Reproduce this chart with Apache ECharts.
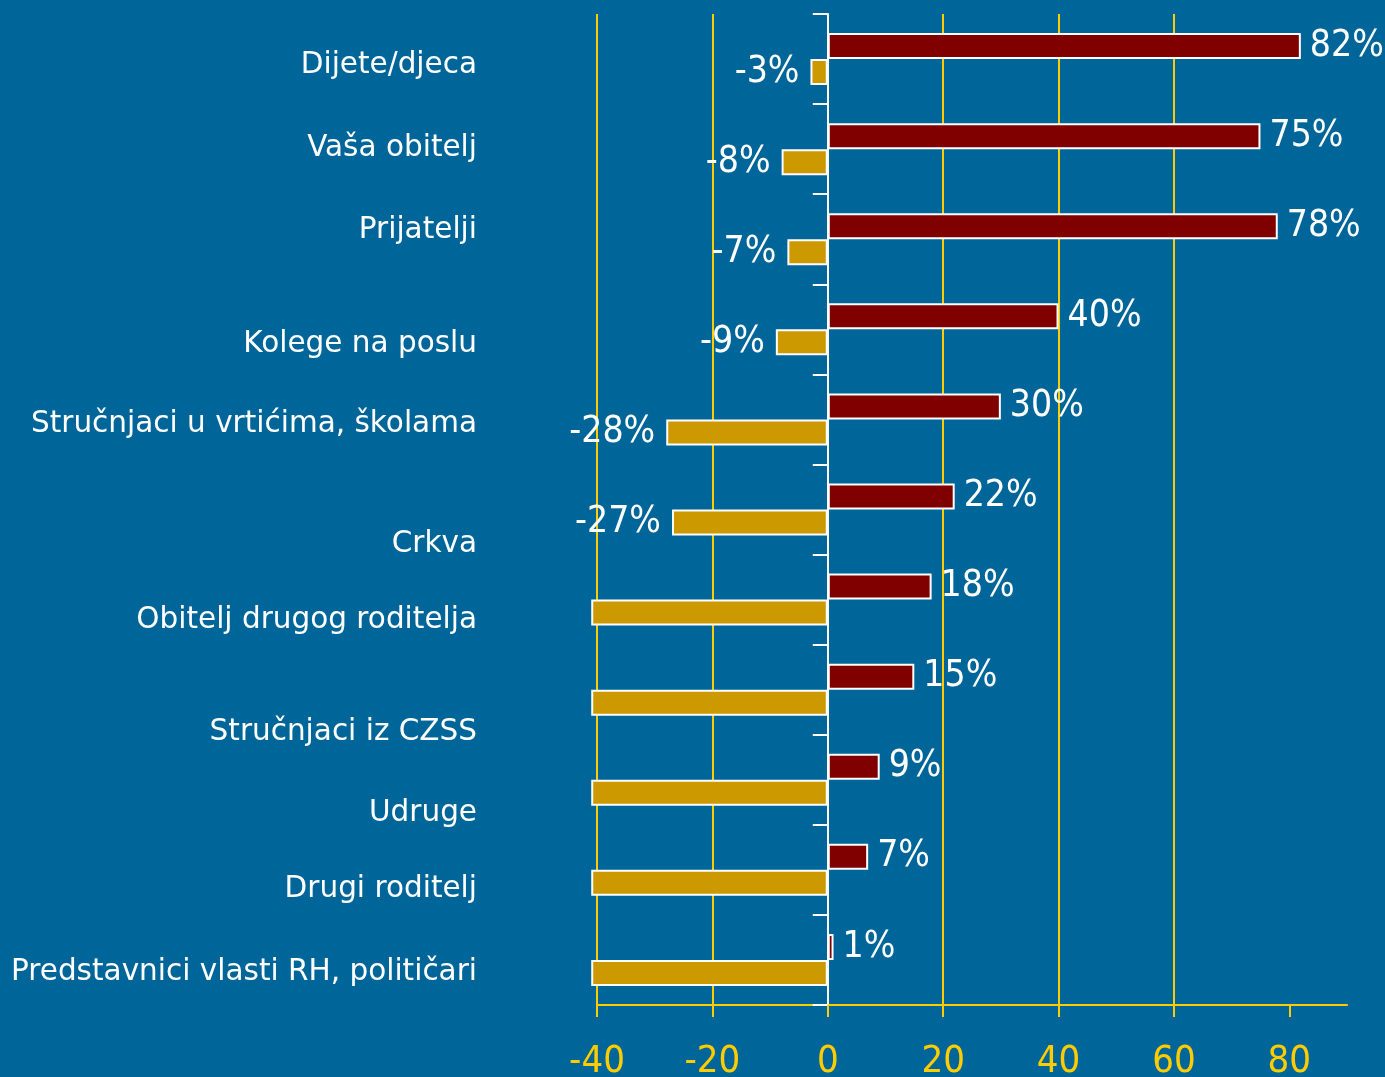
<!DOCTYPE html>
<html>
<head>
<meta charset="utf-8">
<script src="https://cdn.jsdelivr.net/npm/echarts@6/dist/echarts.min.js"></script>
<style>
html,body{margin:0;padding:0;background:#006699;}
#c{width:1385px;height:1077px;}
</style>
</head>
<body>
<div id="c"></div>
<script>
// ---- data ----
var categories = [
  'Dijete/djeca',
  'Vaša obitelj',
  'Prijatelji',
  'Kolege na poslu',
  'Stručnjaci u vrtićima, školama',
  'Crkva',
  'Obitelj drugog roditelja',
  'Stručnjaci iz CZSS',
  'Udruge',
  'Drugi roditelj',
  'Predstavnici vlasti RH, političari'
];
var positiveValues = [82, 75, 78, 40, 30, 22, 18, 15, 9, 7, 1];
var negativeValues = [-3, -8, -7, -9, -28, -27, -41, -41, -41, -41, -41];
var valueTicks = [-40, -20, 0, 20, 40, 60, 80];

// ---- layout helpers (vertical nudges of category labels, px) ----
var labelNudge = [6, -1, -9, 15, 5, 35, 21, 43, 34, 19, 12];
var rich = {};
labelNudge.forEach(function (d, i) {
  rich['o' + i] = {
    fontFamily: 'DejaVu Sans', fontSize: 29.5, color: '#ffffff',
    padding: d >= 0 ? [2 * d, 0, 0, 0] : [0, 0, -2 * d, 0]
  };
});

var chart = echarts.init(document.getElementById('c'), null, {renderer: 'canvas'});
var valueFont = 'DejaVu Sans Condensed';
chart.setOption({
  backgroundColor: '#006699',
  animation: false,
  grid: {left: 597, right: 38, top: 14, bottom: 72, containLabel: false, outerBoundsMode: 'none'},
  xAxis: {
    type: 'value', min: -40, max: 90, interval: 20,
    axisLine: {show: true, lineStyle: {color: '#FFCC00', width: 2}},
    axisTick: {show: true, length: 12, customValues: valueTicks, lineStyle: {color: '#FFCC00', width: 2}},
    axisLabel: {customValues: valueTicks, color: '#FFCC00', fontFamily: valueFont, fontSize: 38, margin: 38},
    splitLine: {show: true, showMinLine: true, showMaxLine: false, lineStyle: {color: '#FFCC00', width: 2}}
  },
  yAxis: [{
    type: 'category', data: categories, inverse: true,
    axisLine: {show: true, onZero: true, lineStyle: {color: '#ffffff', width: 2}},
    axisTick: {show: true, length: 15, lineStyle: {color: '#ffffff', width: 2}},
    axisLabel: {show: false},
    splitLine: {show: false}
  }, {
    type: 'category', data: categories, inverse: true, position: 'left',
    axisLine: {show: false, onZero: false},
    axisTick: {show: false},
    splitLine: {show: false},
    axisLabel: {
      show: true, interval: 0, margin: 120, align: 'right',
      fontFamily: 'DejaVu Sans', fontSize: 29.5, color: '#ffffff',
      formatter: function (v, i) { return '{o' + i + '|' + v + '}'; },
      rich: rich
    }
  }],
  series: [{
    type: 'bar', name: 'pos', yAxisIndex: 0, data: positiveValues,
    barWidth: 26, barGap: '0%',
    itemStyle: {color: '#800000', borderColor: '#ffffff', borderWidth: 2},
    label: {show: true, position: 'right', distance: 9, color: '#ffffff',
      fontFamily: valueFont, fontSize: 37, formatter: function (p) { return p.value + '%'; }}
  }, {
    type: 'bar', name: 'neg', yAxisIndex: 0, data: negativeValues,
    barWidth: 26, barGap: '0%', clip: false,
    itemStyle: {color: '#CC9900', borderColor: '#ffffff', borderWidth: 2},
    label: {show: true, position: 'left', distance: 11, color: '#ffffff',
      fontFamily: valueFont, fontSize: 37,
      formatter: function (p) { return p.value < -40 ? '' : p.value + '%'; }}
  }]
});
</script>
</body>
</html>
